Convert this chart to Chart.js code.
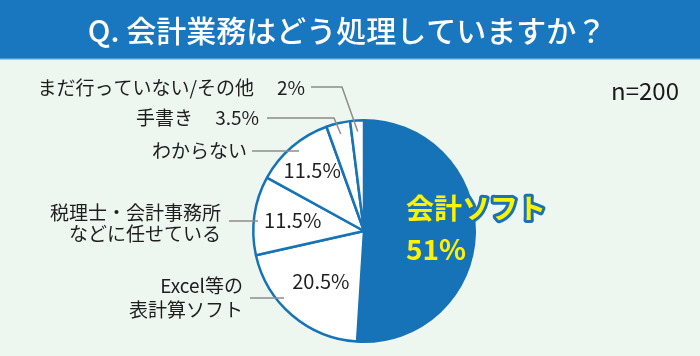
<!DOCTYPE html>
<html><head><meta charset="utf-8">
<script src="https://cdn.jsdelivr.net/npm/chart.js@4"></script>
<style>
html,body{margin:0;padding:0;background:#eef7ef;}
#wrap{position:relative;width:700px;height:356px;}
</style></head>
<body>
<div id="wrap"><canvas id="c" width="700" height="356"></canvas></div>
<script>
const titleText = 'Q. 会計業務はどう処理していますか？';
const sampleText = 'n=200';
const categories = ['会計ソフト', ['Excel等の', '表計算ソフト'], ['税理士・会計事務所', 'などに任せている'], 'わからない', '手書き', 'まだ行っていない/その他'];
const values = [51, 20.5, 11.5, 11.5, 3.5, 2];
const valueLabels = ['51%', '20.5%', '11.5%', '11.5%', '3.5%', '2%'];

const BLUE = '#1673b8';
const FONT = '"Noto Sans CJK JP", "Noto Sans", sans-serif';

const labelPlugin = {
  id: 'labels',
  beforeDraw(chart) {
    const ctx = chart.ctx;
    ctx.save();
    ctx.fillStyle = '#eef7ef';
    ctx.fillRect(0, 0, chart.width, chart.height);
    ctx.fillStyle = '#1877be';
    ctx.fillRect(0, 0, chart.width, 58);
    ctx.fillStyle = '#4a9bd6';
    ctx.fillRect(0, 58, chart.width, 1.5);
    ctx.fillStyle = '#ffffff';
    ctx.font = '500 30px ' + FONT;
    ctx.textAlign = 'center';
    ctx.textBaseline = 'middle';
    ctx.fillText(titleText, 347, 31);
    ctx.fillStyle = '#1a1a1a';
    ctx.font = '24px ' + FONT;
    ctx.textAlign = 'right';
    ctx.fillText(sampleText, 679, 91);
    ctx.restore();
  },
  afterDraw(chart) {
    const ctx = chart.ctx;
    const meta = chart.getDatasetMeta(0);
    const a0 = meta.data[0];
    const cx = a0.x, cy = a0.y, R = a0.outerRadius;
    const midPoint = (i, f) => {
      const a = meta.data[i];
      const ang = (a.startAngle + a.endAngle) / 2;
      return [cx + Math.cos(ang) * R * f, cy + Math.sin(ang) * R * f];
    };
    const lineText = (t) => Array.isArray(t) ? t : [t];
    ctx.save();
    ctx.textBaseline = 'middle';

    // leader lines
    ctx.strokeStyle = '#8c8c8c';
    ctx.lineWidth = 1.5;
    const seg = (pts) => {
      ctx.beginPath();
      ctx.moveTo(pts[0][0], pts[0][1]);
      for (let k = 1; k < pts.length; k++) ctx.lineTo(pts[k][0], pts[k][1]);
      ctx.stroke();
    };
    seg([[cx - 53, cy - 144], [cx - 22, cy - 144], midPoint(5, 0.9)]);
    seg([[cx - 97, cy - 113], [cx - 30, cy - 113], midPoint(4, 0.9)]);
    seg([[cx - 112, cy - 80], [cx - 65, cy - 80]]);
    seg([[cx - 135, cy - 10], [cx - 106, cy - 10]]);
    seg([[cx - 114, cy + 67], [cx - 80, cy + 67]]);

    // category labels
    ctx.fillStyle = '#1e1e1e';
    ctx.font = '19px ' + FONT;
    ctx.textAlign = 'right';
    ctx.fillText(categories[5], cx - 110, cy - 143);
    ctx.fillText(valueLabels[5], cx - 59, cy - 143);
    ctx.fillText(categories[4], cx - 171, cy - 113);
    ctx.fillText(valueLabels[4], cx - 105, cy - 113);
    ctx.fillText(categories[3], cx - 117, cy - 80);
    lineText(categories[2]).forEach((t, k) => ctx.fillText(t, cx - 143, cy - 18 + k * 21));
    lineText(categories[1]).forEach((t, k) => ctx.fillText(t, cx - 121, cy + 55 + k * 24));

    // value labels inside
    ctx.textAlign = 'center';
    ctx.font = '20px ' + FONT;
    const inside = [[1, 0.6], [2, 0.65], [3, 0.72]];
    inside.forEach(([i, f]) => {
      const p = midPoint(i, f);
      ctx.fillText(valueLabels[i], p[0], p[1]);
    });

    // main highlight label
    ctx.textAlign = 'left';
    ctx.font = 'bold 28px ' + FONT;
    ctx.lineJoin = 'round';
    ctx.lineWidth = 6;
    ctx.strokeStyle = BLUE;
    ctx.strokeText(categories[0], cx + 42, cy - 23);
    ctx.fillStyle = '#fff200';
    ctx.fillText(categories[0], cx + 42, cy - 23);
    ctx.fillText(valueLabels[0], cx + 42, cy + 18);
    ctx.restore();
  }
};

new Chart(document.getElementById('c'), {
  type: 'pie',
  data: {
    labels: categories,
    datasets: [{
      data: values,
      backgroundColor: values.map((v, i) => i === 0 ? BLUE : '#ffffff'),
      borderColor: BLUE,
      borderWidth: 2.5
    }]
  },
  options: {
    responsive: false,
    animation: false,
    layout: { padding: { top: 119, bottom: 13, left: 252, right: 224 } },
    plugins: { legend: { display: false }, tooltip: { enabled: false }, title: { display: false } }
  },
  plugins: [labelPlugin]
});
</script>
</body></html>
